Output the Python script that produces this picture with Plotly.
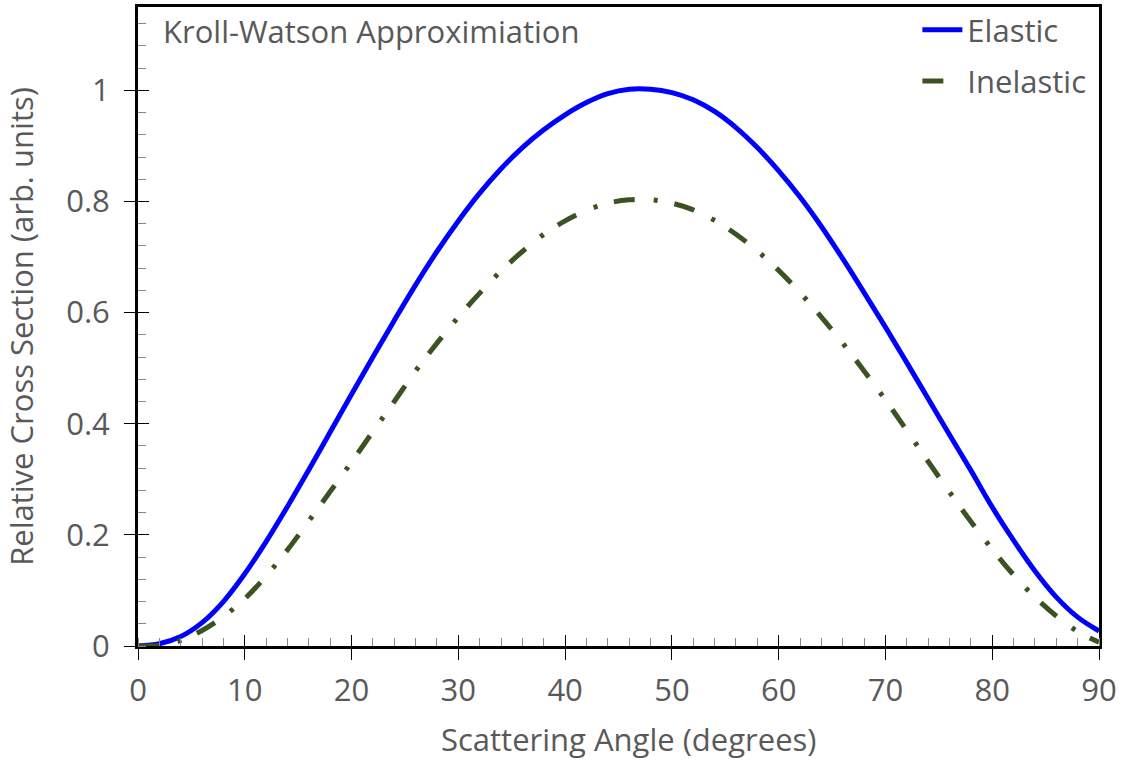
import plotly.graph_objects as go

angle = [0, 2, 4, 6, 8, 10, 12, 14, 16, 18, 20, 22, 24, 26, 28, 30, 32, 34, 36, 38, 40,
         42, 44, 46, 48, 50, 52, 54, 56, 58, 60, 62, 64, 66, 68, 70, 72, 74, 76, 78, 80,
         82, 84, 86, 88, 90]

elastic = [0.0, 0.004, 0.017, 0.042, 0.080, 0.130, 0.188, 0.251, 0.317, 0.385, 0.453,
           0.520, 0.586, 0.650, 0.710, 0.765, 0.815, 0.859, 0.897, 0.929, 0.956, 0.978,
           0.994, 1.002, 1.002, 0.996, 0.983, 0.962, 0.933, 0.897, 0.855, 0.808, 0.755,
           0.697, 0.636, 0.574, 0.510, 0.445, 0.380, 0.316, 0.250, 0.190, 0.135, 0.088,
           0.052, 0.027]

inelastic = [0.0, 0.001, 0.010, 0.028, 0.053, 0.085, 0.126, 0.173, 0.225, 0.278, 0.331,
             0.386, 0.440, 0.495, 0.545, 0.592, 0.635, 0.675, 0.710, 0.741, 0.765, 0.784,
             0.797, 0.803, 0.803, 0.797, 0.785, 0.766, 0.741, 0.711, 0.676, 0.636, 0.592,
             0.545, 0.495, 0.443, 0.388, 0.332, 0.277, 0.224, 0.174, 0.128, 0.088, 0.054,
             0.026, 0.007]

FONT = "Open Sans"
GRAY = "#595959"
FS = 31

fig = go.Figure()
fig.add_trace(go.Scatter(x=angle, y=elastic, mode="lines", name="Elastic",
                         line=dict(color="#0000ff", width=5, shape="spline"),
                         legendgroup="a"))
fig.add_trace(go.Scatter(x=angle, y=inelastic, mode="lines", name="Inelastic",
                         line=dict(color="#3b5323", width=5, shape="spline",
                                   dash="21px,19px,4px,17px"),
                         legendgroup="b"))
# helper trace for the inner half of the crossing major ticks
fig.add_trace(go.Scatter(x=[], y=[], xaxis="x2", yaxis="y2", showlegend=False,
                         hoverinfo="skip"))

fig.update_layout(
    width=1135, height=761,
    margin=dict(l=138, r=36, t=3, b=115),
    paper_bgcolor="white", plot_bgcolor="white",
    font=dict(family=FONT, size=FS, color=GRAY),
    showlegend=True,
    legend=dict(x=0.811, y=1.006, xanchor="left", yanchor="top",
                bgcolor="rgba(0,0,0,0)", font=dict(size=FS, color=GRAY),
                tracegroupgap=8, traceorder="grouped", itemwidth=40),
    xaxis=dict(range=[0, 90], dtick=10, showgrid=False, zeroline=False,
               showline=True, linecolor="black", linewidth=3, mirror=True,
               ticks="outside", ticklen=11, tickwidth=1, tickcolor="black",
               ticklabelstandoff=4,
               minor=dict(dtick=2, ticks="inside", ticklen=8, tickcolor="#888888",
                          showgrid=False),
               tickfont=dict(size=FS, color=GRAY)),
    yaxis=dict(range=[0, 1.15], dtick=0.2, showgrid=False, zeroline=False,
               showline=True, linecolor="black", linewidth=3, mirror=True,
               ticks="outside", ticklen=11, tickwidth=1, tickcolor="black",
               ticklabelstandoff=8,
               minor=dict(dtick=0.04, ticks="inside", ticklen=8, tickcolor="#888888",
                          showgrid=False),
               tickfont=dict(size=FS, color=GRAY),
               title=dict(text="Relative Cross Section (arb. units)",
                          font=dict(size=FS, color=GRAY), standoff=26)),
    xaxis2=dict(range=[0, 90], dtick=10, overlaying="x", anchor="y2", side="bottom",
                showgrid=False, zeroline=False, showline=False, showticklabels=False,
                ticks="inside", ticklen=11, tickwidth=1, tickcolor="black"),
    yaxis2=dict(range=[0, 1.15], dtick=0.2, overlaying="y", anchor="x2", side="left",
                showgrid=False, zeroline=False, showline=False, showticklabels=False,
                ticks="inside", ticklen=11, tickwidth=1, tickcolor="black"),
    annotations=[
        dict(text="Kroll-Watson Approximiation", xref="paper", yref="paper",
             x=0.024, y=0.962, xanchor="left", yanchor="middle", showarrow=False,
             font=dict(family=FONT, size=FS, color=GRAY)),
        dict(text="Scattering Angle (degrees)", xref="paper", yref="paper",
             x=0.51, y=-0.145, xanchor="center", yanchor="middle", showarrow=False,
             font=dict(family=FONT, size=FS, color=GRAY)),
    ],
)

fig.write_html("out.html")
